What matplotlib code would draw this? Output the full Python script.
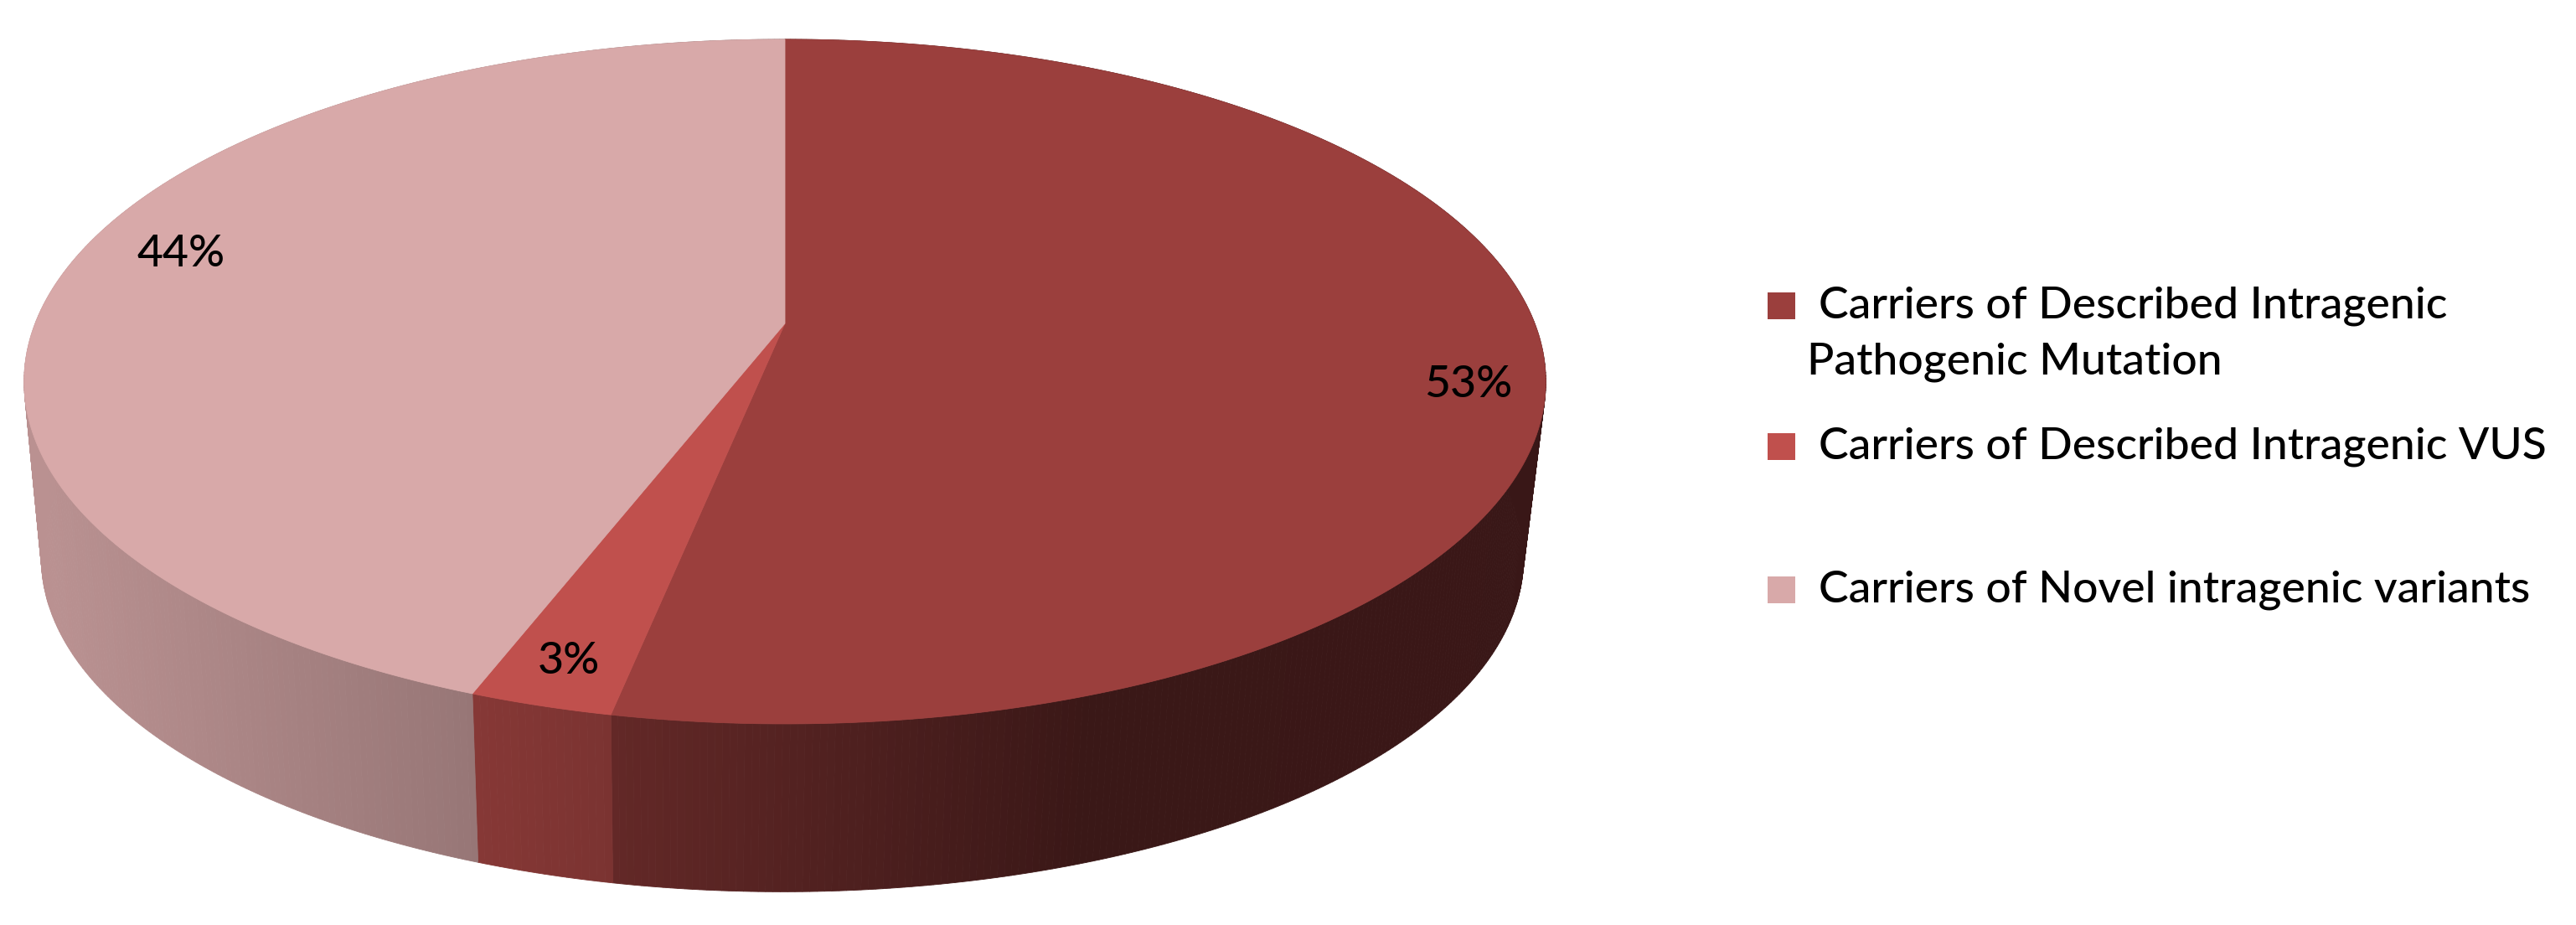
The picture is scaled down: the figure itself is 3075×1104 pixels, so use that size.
#!/usr/bin/env python3
"""Perspective 3D pie of intragenic variant carriers."""

import numpy as np
import matplotlib
matplotlib.use("Agg")
import matplotlib.pyplot as plt
from matplotlib.patches import Polygon, Rectangle

plt.rcParams["font.family"] = ["Lato", "DejaVu Sans"]

CATEGORIES = [
    "Carriers of Described Intragenic\nPathogenic Mutation",
    "Carriers of Described Intragenic VUS",
    "Carriers of Novel intragenic variants",
]
VALUES = [53.1, 2.6, 44.3]
COLORS = ["#9b3f3d", "#c0504d", "#d8a9a9"]

# pixel layout of the pie
CX, APEX_Y, A, B, K = 937.0, 386.0, 895.0, 396.7, 0.17
RIM_CY, BASE_CX, BASE_CY, BASE_SCALE = 456.0, 934.0, 667.0, 0.974
# side wall gets darker from left to right
SHADE_X = [50, 563, 727, 1300, 1900]
SHADE_F = [0.86, 0.70, 0.64, 0.375, 0.37]
FONT_SIZE = 38.5


def rim(phi):
    """Project clockwise-from-top angles onto the top face."""
    u, v = np.sin(phi), -np.cos(phi)
    d = 1 - K * v
    return CX + A * u / d, APEX_Y + B * v / d


def base(x, y):
    return BASE_CX + BASE_SCALE * (x - CX), BASE_CY + BASE_SCALE * (y - RIM_CY)


def shaded(color, x):
    rgb = np.array(matplotlib.colors.to_rgb(color))
    return tuple(rgb * np.interp(x, SHADE_X, SHADE_F))


def main():
    fig = plt.figure(figsize=(30.75, 11.04), dpi=100)
    ax = fig.add_axes([0, 0, 1, 1])
    ax.set_xlim(0, 3075)
    ax.set_ylim(1104, 0)
    ax.axis("off")

    edges = np.cumsum([0] + VALUES) / sum(VALUES) * 2 * np.pi

    # side wall first, the top face covers the hidden back part
    for start, end, color in zip(edges[:-1], edges[1:], COLORS):
        phi = np.linspace(start, end, max(int((end - start) * 120), 4))
        xt, yt = rim(phi)
        xb, yb = base(xt, yt)
        for i in range(len(phi) - 1):
            quad = [(xt[i], yt[i]), (xt[i + 1], yt[i + 1]), (xb[i + 1], yb[i + 1]), (xb[i], yb[i])]
            c = shaded(color, (xt[i] + xt[i + 1]) / 2)
            ax.add_patch(Polygon(quad, closed=True, facecolor=c, edgecolor=c, linewidth=0.6))

    for start, end, color in zip(edges[:-1], edges[1:], COLORS):
        phi = np.linspace(start, end, 200)
        xt, yt = rim(phi)
        pts = [(CX, APEX_Y)] + list(zip(xt, yt))
        ax.add_patch(Polygon(pts, closed=True, facecolor=color, edgecolor=color, linewidth=0.6))

    for value, (x, y) in zip(VALUES, [(1753, 459), (679, 790), (216, 304)]):
        ax.text(x, y, f"{value:.0f}%", fontsize=FONT_SIZE, fontweight="medium",
                ha="center", va="center", color="black")

    for label, color, y in zip(CATEGORIES, COLORS, [365, 533, 704]):
        ax.add_patch(Rectangle((2110, y - 16), 33, 32, facecolor=color, edgecolor="none"))
        lines = label.split("\n")
        ax.text(2171, y, lines[0], fontsize=FONT_SIZE, fontweight="medium",
                ha="left", va="center", color="black")
        if len(lines) > 1:
            ax.text(2157, y + 67, lines[1], fontsize=FONT_SIZE, fontweight="medium",
                    ha="left", va="center", color="black")

    fig.savefig("out.png", dpi=100, facecolor="white")
    plt.close(fig)


if __name__ == "__main__":
    main()
